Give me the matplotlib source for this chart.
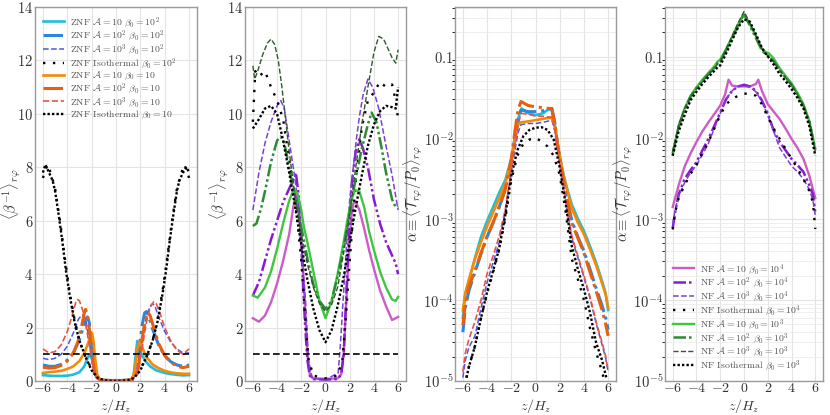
import math
import matplotlib
matplotlib.use("Agg")
import matplotlib.pyplot as plt
from matplotlib.ticker import FixedLocator, FuncFormatter, LogLocator, NullFormatter

plt.rcParams['font.family'] = ['cmr10']
plt.rcParams['mathtext.fontset'] = 'cm'
plt.rcParams['axes.formatter.use_mathtext'] = True
plt.rcParams['axes.unicode_minus'] = True

# ---------------- Panel 1: ZNF <beta^-1> ----------------
bz_c1_z = [-6,-5.5,-5,-4.5,-4,-3.5,-3,-2.6,-2.35,-2.15,-1.95,-1.75,-1.55,-1.2,-0.5,0,0.5,1.2,1.45,1.6,1.75,1.9,2.1,2.4,2.8,3.3,4,4.5,5,5.5,6]
bz_c1_y = [0.22,0.2,0.19,0.19,0.2,0.24,0.33,0.55,0.85,1.0,0.8,0.35,0.1,0.03,0.02,0.02,0.02,0.04,0.2,0.9,1.5,1.35,1.0,0.75,0.55,0.4,0.3,0.26,0.23,0.21,0.22]
bz_o1_z = [-6,-5.5,-5,-4.5,-4,-3.5,-3,-2.6,-2.3,-2.1,-1.97,-1.85,-1.7,-1.55,-1.3,-0.5,0,0.5,1.3,1.55,1.75,1.98,2.2,2.5,3,3.5,4,4.5,5,5.5,6]
bz_o1_y = [0.3,0.33,0.35,0.38,0.45,0.55,0.75,1.05,1.4,1.7,1.8,1.5,0.8,0.25,0.05,0.02,0.02,0.02,0.06,0.4,1.2,1.5,1.2,0.9,0.62,0.48,0.38,0.32,0.29,0.27,0.27]
bz_c2_z = [-6,-5.5,-5,-4.5,-4,-3.5,-3,-2.7,-2.5,-2.35,-2.2,-2.0,-1.8,-1.6,-1.3,-0.5,0,0.5,1.3,1.6,1.9,2.15,2.35,2.5,2.7,3,3.5,4,4.5,5,5.5,6]
bz_c2_y = [0.6,0.55,0.55,0.62,0.78,1.05,1.55,2.0,2.3,2.4,2.2,1.4,0.6,0.15,0.04,0.02,0.02,0.02,0.05,0.3,1.2,2.1,2.55,2.6,2.4,1.95,1.35,0.95,0.72,0.6,0.55,0.6]
bz_o2_z = [-6,-5.5,-5,-4.5,-4,-3.5,-3.1,-2.8,-2.6,-2.5,-2.35,-2.15,-1.95,-1.75,-1.5,-1,0,1,1.5,1.8,2.1,2.35,2.6,2.8,3.1,3.5,4,4.5,5,5.5,6]
bz_o2_y = [0.52,0.48,0.5,0.58,0.75,1.05,1.5,2.1,2.55,2.68,2.5,1.8,0.9,0.3,0.07,0.02,0.02,0.02,0.07,0.4,1.4,2.2,2.57,2.45,2.0,1.4,0.95,0.7,0.55,0.5,0.55]
bz_c3_z = [-6,-5.5,-5,-4.5,-4,-3.5,-3.1,-2.85,-2.7,-2.5,-2.3,-2.05,-1.8,-1.55,-1.3,-0.5,0,0.5,1.3,1.6,1.9,2.2,2.5,2.8,3.0,3.2,3.5,4,4.5,5,5.5,6]
bz_c3_y = [0.85,0.8,0.85,1.0,1.3,1.8,2.3,2.45,2.48,2.3,1.8,1.0,0.35,0.1,0.03,0.02,0.02,0.02,0.05,0.25,0.9,1.7,2.4,2.8,2.9,2.8,2.4,1.85,1.45,1.2,1.05,1.05]
bz_o3_z = [-6,-5.5,-5,-4.5,-4,-3.6,-3.3,-3.15,-3.0,-2.7,-2.4,-2.1,-1.85,-1.6,-1.3,-0.5,0,0.5,1.3,1.6,1.9,2.2,2.5,2.8,3.1,3.3,3.6,4,4.5,5,5.5,6]
bz_o3_y = [1.2,1.05,1.1,1.35,1.85,2.45,2.95,3.05,3.0,2.6,1.9,1.1,0.45,0.12,0.03,0.02,0.02,0.02,0.04,0.15,0.6,1.4,2.2,2.75,2.97,2.9,2.55,2.0,1.5,1.15,1.0,1.2]
bz_iso2_z = [-6,-5.8,-5.6,-5.3,-5,-4.6,-4.2,-3.8,-3.4,-3,-2.5,-2,-1.5,-1,0,1,1.5,2,2.5,3,3.4,3.8,4.2,4.6,5,5.3,5.6,5.8,6]
bz_iso2_y = [7.6,7.9,8.1,7.7,7.2,6.0,4.6,3.3,2.3,1.5,0.9,0.45,0.1,0.02,0.01,0.02,0.1,0.45,0.9,1.5,2.3,3.3,4.6,6.0,7.2,7.7,8.1,7.9,7.6]
bz_iso1_z = [-6,-5.8,-5.5,-5.2,-5,-4.7,-4.4,-4.1,-3.8,-3.4,-3,-2.5,-2,-1.5,-1,-0.5,0,0.5,1,1.5,2,2.5,3,3.4,3.8,4.1,4.4,4.7,5,5.2,5.5,5.8,6]
bz_iso1_y = [7.8,8.1,7.8,7.5,7.1,6.2,5.2,4.1,3.2,2.2,1.5,0.9,0.4,0.12,0.03,0.01,0.0,0.01,0.03,0.12,0.4,0.9,1.5,2.2,3.2,4.1,5.2,6.2,7.1,7.5,7.8,8.0,7.8]

# reference level beta^-1 = 1
ref_z = [-6, 6]
ref_y = [1.0, 1.0]

# ---------------- Panel 2: NF <beta^-1> ----------------
bn_m1_z = [-6,-5.5,-5,-4.5,-4,-3.5,-3,-2.7,-2.45,-2.2,-1.95,-1.7,-1.5,-1.3,-1,0,1,1.3,1.5,1.7,1.9,2.1,2.3,2.5,2.8,3.2,3.6,4,4.5,5,5.5,6]
bn_m1_y = [2.35,2.22,2.45,2.95,3.65,4.5,5.5,6.4,7.05,6.6,5.0,2.8,1.0,0.25,0.1,0.08,0.1,0.25,1.0,2.8,4.6,6.0,6.65,6.7,6.4,5.7,4.9,4.2,3.4,2.8,2.28,2.4]
bn_m2_z = [-6,-5.5,-5,-4.5,-4,-3.5,-3,-2.7,-2.45,-2.2,-1.95,-1.7,-1.5,-1.3,-1,0,1,1.3,1.5,1.7,1.9,2.2,2.5,2.8,3.1,3.5,4,4.5,5,5.5,5.8,6]
bn_m2_y = [3.2,3.7,4.5,5.3,6.0,6.7,7.2,7.5,7.8,6.9,4.6,2.2,0.8,0.2,0.07,0.05,0.07,0.25,1.0,3.0,5.2,7.5,8.6,9.05,8.7,8.0,6.8,5.9,5.2,4.7,4.4,4.0]
bn_m3_z = [-6,-5.5,-5,-4.5,-4,-3.7,-3.4,-3.1,-2.8,-2.5,-2.2,-1.9,-1.65,-1.4,-1.1,0,1.05,1.25,1.45,1.7,2.0,2.3,2.55,2.8,3.1,3.5,3.9,4.4,5,5.5,6]
bn_m3_y = [6.4,7.8,8.9,9.7,10.3,10.5,10.2,9.3,8.4,7.5,6.3,4.5,3.0,0.8,0.1,0.05,0.3,1.5,3.0,4.8,6.8,8.0,9.05,9.9,10.7,11.3,11.0,10.2,8.8,7.7,6.4]
bn_iso4_z = [-6,-5.8,-5.5,-5,-4.5,-4,-3.5,-3,-2.5,-2,-1.7,-1.4,-1,0,1,1.4,1.7,2,2.5,3,3.5,4,4.5,5,5.5,5.8,6]
bn_iso4_y = [9.7,11.6,11.4,11.6,11.0,10.5,9.8,8.3,6.8,4.5,2.5,0.8,0.2,0.1,0.2,0.8,2.5,4.5,7.5,9.5,10.5,10.8,11.2,11.0,11.1,10.5,9.8]
bn_g1_z = [-6,-5.6,-5,-4.5,-4,-3.5,-3,-2.6,-2.3,-2,-1.8,-1.5,-1,-0.5,0,0.5,1,1.5,1.8,2.1,2.4,2.8,3.2,3.6,4,4.5,5,5.5,5.8,6]
bn_g1_y = [3.2,3.12,3.5,4.1,4.95,5.9,6.75,7.2,7.0,6.4,5.8,5.2,4.1,3.0,2.35,3.0,4.0,5.2,6.0,6.7,7.15,7.1,6.5,5.6,4.9,4.1,3.5,3.05,3.0,3.15]
bn_g2_z = [-6,-5.7,-5.3,-5,-4.5,-4,-3.7,-3.4,-3,-2.6,-2.2,-1.8,-1.5,-1,-0.5,0,0.5,1,1.5,2,2.5,3,3.5,3.8,4.2,4.6,5,5.5,5.8,6]
bn_g2_y = [5.8,5.9,6.5,7.1,8.2,9.0,9.15,8.9,8.0,7.0,6.2,5.3,4.6,3.6,3.0,2.7,3.0,3.9,5.0,6.3,7.6,8.7,9.6,10.05,9.7,8.8,7.8,6.8,6.5,6.55]
bn_g3_z = [-6,-5.85,-5.6,-5.2,-4.8,-4.5,-4.2,-3.9,-3.6,-3.3,-3,-2.6,-2.2,-1.8,-1.4,-1,-0.5,0,0.5,1,1.5,2,2.5,3,3.5,4,4.4,4.8,5.2,5.5,5.8,6]
bn_g3_y = [11.8,11.3,11.6,12.2,12.65,12.8,12.6,12.0,11.0,9.8,8.6,7.2,6.0,5.0,4.2,3.5,2.9,2.6,2.85,3.5,4.8,6.3,8.0,9.6,11.0,12.3,12.9,12.8,12.4,12.1,11.9,12.4]
bn_iso3_z = [-6,-5.5,-5,-4.5,-4,-3.5,-3,-2.5,-2,-1.5,-1,-0.5,0,0.5,1,1.5,2,2.5,3,3.5,4,4.5,5,5.5,5.8,6]
bn_iso3_y = [9.45,9.8,10.2,10.3,10.0,9.0,7.8,6.5,5.1,3.8,2.7,1.9,1.45,1.9,2.8,3.9,5.2,6.5,7.7,8.8,9.6,10.1,10.3,10.25,10.2,11.0]

# ---------------- Panel 3: ZNF alpha ----------------
az_c1_z = [-6,-5.8,-5.5,-5,-4.5,-4,-3.5,-3,-2.5,-2,-1.7,-1.4,-1.15,-0.6,0,0.6,1.0,1.3,1.55,1.8,2.0,2.3,2.6,3,3.5,4,4.5,5,5.5,5.8,6]
az_c1_y = [6e-5,1.2e-4,1.7e-4,3.3e-4,6e-4,9.4e-4,1.4e-3,2.1e-3,3.0e-3,5.5e-3,1.0e-2,1.8e-2,2.3e-2,2.0e-2,1.9e-2,2.0e-2,2.2e-2,2.3e-2,1.6e-2,9e-3,6e-3,3.6e-3,2.4e-3,1.5e-3,1.0e-3,7.1e-4,4.6e-4,2.9e-4,1.7e-4,1.2e-4,7.5e-5]
az_o1_z = [-6,-5.8,-5.5,-5,-4.5,-4,-3.5,-3,-2.5,-2,-1.7,-1.45,-1.2,-0.5,0,0.5,1.0,1.35,1.6,1.8,2.0,2.3,2.6,3,3.5,4,4.5,5,5.5,5.8,6]
az_o1_y = [7.4e-5,1.2e-4,1.8e-4,3.2e-4,5.2e-4,8.1e-4,1.2e-3,1.8e-3,2.7e-3,5.2e-3,1.0e-2,1.45e-2,1.55e-2,1.6e-2,1.65e-2,1.7e-2,1.75e-2,1.75e-2,1.4e-2,9e-3,6e-3,3.5e-3,2.3e-3,1.35e-3,9e-4,6.5e-4,4.2e-4,2.7e-4,1.6e-4,1.15e-4,8e-5]
az_mid_z = [-6,-5.8,-5.5,-5,-4.5,-4,-3.5,-3,-2.5,-2,-1.7,-1.45,-1.2,-0.6,0,0.6,1.0,1.35,1.6,1.8,2.0,2.3,2.6,3,3.5,4,4.5,5,5.5,5.8,6]
az_c2_y = [4e-5,8e-5,1.3e-4,2.2e-4,3.7e-4,6e-4,9e-4,1.4e-3,2.3e-3,5e-3,1.0e-2,1.7e-2,2.2e-2,2.1e-2,2.1e-2,2.15e-2,2.25e-2,2.3e-2,1.5e-2,8.5e-3,5.5e-3,3e-3,1.8e-3,9.5e-4,6e-4,4e-4,2.4e-4,1.4e-4,8.5e-5,6e-5,4.3e-5]
az_o2_y = [4.9e-5,9e-5,1.45e-4,2.3e-4,3.8e-4,6.1e-4,9e-4,1.4e-3,2.3e-3,5.5e-3,1.2e-2,2.2e-2,2.8e-2,2.5e-2,2.4e-2,2.35e-2,2.3e-2,2.3e-2,1.5e-2,8.5e-3,5.5e-3,3e-3,1.75e-3,8.9e-4,5.8e-4,3.8e-4,2.2e-4,1.3e-4,7.5e-5,5e-5,3.6e-5]
az_o3_y = [1.3e-5,2.2e-5,3.3e-5,5.4e-5,1.0e-4,2.1e-4,3.5e-4,6.1e-4,1.3e-3,4.0e-3,8e-3,1.4e-2,2.0e-2,1.95e-2,1.85e-2,1.85e-2,1.8e-2,1.8e-2,1.3e-2,8e-3,5e-3,2.6e-3,1.4e-3,6.1e-4,3.5e-4,2e-4,1.1e-4,5.4e-5,3e-5,2e-5,1.35e-5]
az_c3_y = [1.1e-5,1.8e-5,2.6e-5,3.6e-5,8e-5,1.65e-4,2.9e-4,5.1e-4,1.2e-3,3.8e-3,7e-3,1.15e-2,1.45e-2,1.5e-2,1.5e-2,1.55e-2,1.6e-2,1.65e-2,1.2e-2,7.5e-3,4.8e-3,2.5e-3,1.3e-3,5.8e-4,3.3e-4,1.9e-4,1.05e-4,5.2e-5,2.8e-5,1.9e-5,1.3e-5]
az_iso_z = [-5.7,-5.5,-5,-4.5,-4,-3.5,-3,-2.5,-2,-1.5,-1,-0.5,0,0.5,1,1.5,2,2.5,3,3.5,4,4.5,5,5.5,5.85]
az_iso2_y = [1.1e-5,1.5e-5,2.7e-5,6e-5,1.2e-4,2.2e-4,4.2e-4,1.0e-3,3.0e-3,6e-3,8.5e-3,9.5e-3,1.0e-2,9e-3,7.8e-3,6e-3,3.5e-3,1.2e-3,3.2e-4,1.8e-4,1.0e-4,4.5e-5,2.3e-5,1.3e-5,8e-6]
az_iso1_y = [1.1e-5,1.5e-5,2.7e-5,6e-5,1.26e-4,2.3e-4,4.3e-4,1.1e-3,3.4e-3,7e-3,1.05e-2,1.25e-2,1.33e-2,1.35e-2,1.25e-2,9.5e-3,4.3e-3,1.5e-3,4.6e-4,2.4e-4,1.35e-4,7e-5,3e-5,1.8e-5,1.1e-5]

# ---------------- Panel 4: NF alpha ----------------
an_m1_z = [-6,-5.5,-5,-4.5,-4,-3.5,-3,-2.5,-2,-1.6,-1.3,-1.0,-0.5,0,0.5,1.0,1.2,1.5,2,2.5,3,3.5,4,4.5,5,5.5,6]
an_m1_y = [1.4e-3,2.6e-3,4.4e-3,6.4e-3,8.9e-3,1.2e-2,1.55e-2,1.96e-2,2.5e-2,3.4e-2,5.2e-2,4.4e-2,4.3e-2,4.3e-2,4.3e-2,4.6e-2,5.2e-2,3.8e-2,2.6e-2,2.1e-2,1.7e-2,1.3e-2,9.7e-3,7.5e-3,5.5e-3,3.4e-3,1.8e-3]
an_p_z = [-6,-5.8,-5.5,-5,-4.5,-4,-3.5,-3,-2.5,-2,-1.5,-1,-0.5,0,0.5,1,1.5,2,2.5,3,3.5,4,4.5,5,5.5,5.8,6]
an_m2_y = [7.7e-4,1.2e-3,2.0e-3,3.1e-3,4e-3,5e-3,7e-3,9.7e-3,1.4e-2,2.06e-2,3e-2,3.8e-2,4.3e-2,4.5e-2,4.3e-2,3.8e-2,2.9e-2,2e-2,1.23e-2,8.9e-3,7e-3,5.5e-3,4.6e-3,3.8e-3,2.6e-3,2e-3,1.2e-3]
an_m3_y = [8.5e-4,1.3e-3,1.9e-3,2.8e-3,3.7e-3,4.6e-3,6.2e-3,8.5e-3,1.3e-2,2e-2,3e-2,3.8e-2,4.3e-2,4.4e-2,4.2e-2,3.7e-2,2.8e-2,1.9e-2,1.2e-2,7.5e-3,5.8e-3,4.5e-3,3.8e-3,3.1e-3,2.3e-3,1.7e-3,1.1e-3]
an_iso4_y = [7.4e-4,1.2e-3,1.8e-3,2.6e-3,3.6e-3,4.6e-3,6.5e-3,8.9e-3,1.3e-2,1.9e-2,2.6e-2,3e-2,3.3e-2,3.5e-2,3.5e-2,3.3e-2,2.6e-2,1.8e-2,1.3e-2,9.7e-3,7.3e-3,5.5e-3,4.2e-3,3.1e-3,2.2e-3,1.6e-3,7.5e-4]
an_g_z = [-6,-5.5,-5,-4.5,-4,-3.5,-3,-2.5,-2.2,-2,-1.5,-1,-0.5,0,0.5,1,1.5,1.8,2.1,2.5,3,3.5,4,4.5,5,5.5,6]
an_g1_y = [6.3e-3,1.4e-2,2.3e-2,3.3e-2,4.2e-2,5.2e-2,6.3e-2,7.6e-2,8.8e-2,9.2e-2,0.125,0.175,0.25,0.33,0.25,0.18,0.125,0.115,0.11,0.095,0.072,0.058,0.047,0.036,0.026,0.016,7.3e-3]
an_g2_y = [6.5e-3,1.35e-2,2.2e-2,3.2e-2,4.1e-2,5e-2,6.1e-2,7.3e-2,8.4e-2,8.8e-2,0.12,0.17,0.24,0.34,0.24,0.17,0.12,0.108,0.1,0.088,0.068,0.055,0.045,0.034,0.025,0.016,7e-3]
an_g3_y = [6.8e-3,1.45e-2,2.3e-2,3.2e-2,4e-2,4.9e-2,6e-2,7.2e-2,8.2e-2,8.6e-2,0.125,0.18,0.26,0.36,0.26,0.18,0.125,0.11,0.1,0.087,0.068,0.055,0.045,0.034,0.025,0.016,6.8e-3]
an_iso3_y = [6e-3,1.2e-2,1.9e-2,2.9e-2,3.7e-2,4.6e-2,5.6e-2,6.7e-2,7.5e-2,7.8e-2,0.11,0.16,0.23,0.29,0.27,0.19,0.13,0.11,0.097,0.08,0.061,0.05,0.04,0.031,0.023,0.014,6e-3]

# ---------------- labels ----------------
znf_labels = [r'ZNF $\mathcal{A}=10$ $\beta_0=10^2$', r'ZNF $\mathcal{A}=10^2$ $\beta_0=10^2$',
              r'ZNF $\mathcal{A}=10^3$ $\beta_0=10^2$', r'ZNF Isothermal $\beta_0=10^2$',
              r'ZNF $\mathcal{A}=10$ $\beta_0=10$', r'ZNF $\mathcal{A}=10^2$ $\beta_0=10$',
              r'ZNF $\mathcal{A}=10^3$ $\beta_0=10$', r'ZNF Isothermal $\beta_0=10$']
nf_labels = [r'NF $\mathcal{A}=10$ $\beta_0=10^4$', r'NF $\mathcal{A}=10^2$ $\beta_0=10^4$',
             r'NF $\mathcal{A}=10^3$ $\beta_0=10^4$', r'NF Isothermal $\beta_0=10^4$',
             r'NF $\mathcal{A}=10$ $\beta_0=10^3$', r'NF $\mathcal{A}=10^2$ $\beta_0=10^3$',
             r'NF $\mathcal{A}=10^3$ $\beta_0=10^3$', r'NF Isothermal $\beta_0=10^3$']

# ---------------- styles ----------------
DD = (0, (1.0, 0.9))          # dense dots
LD = (0, (1.0, 3.2))          # loose dots
DDD = (0, (5, 1.2, 1, 1.2, 1, 1.2))  # dash-dot-dot
znf_styles = [dict(color='#1dbfdc', ls='-', lw=1.9),
              dict(color='#2b86dc', ls='-.', lw=2.2),
              dict(color='#4858ec', ls='--', lw=1.1),
              dict(color='black', ls=LD, lw=1.7),
              dict(color='#f58a07', ls='-', lw=1.9),
              dict(color='#e5600f', ls='-.', lw=2.2),
              dict(color='#ea5343', ls='--', lw=1.2),
              dict(color='black', ls=DD, lw=1.7)]
nf_styles = [dict(color='#cc5cc8', ls='-', lw=1.7),
             dict(color='#8a1ad0', ls=DDD, lw=1.8),
             dict(color='#7b3fd8', ls='--', lw=1.1),
             dict(color='black', ls=LD, lw=1.7),
             dict(color='#3fc63f', ls='-', lw=1.7),
             dict(color='#2e8b34', ls=DDD, lw=1.8),
             dict(color='#2d5a2d', ls='--', lw=1.0),
             dict(color='black', ls=DD, lw=1.7)]

fig = plt.figure(figsize=(8.3, 4.15), dpi=100)
bottom, height = 1 - 381/415, (381 - 7)/415
lefts = [35, 245, 455, 665]
rights = [197, 406, 616, 823]
axes = [fig.add_axes([l/830, bottom, (r - l)/830, height]) for l, r in zip(lefts, rights)]
ylabel_x = [-0.075, -0.085, -0.185, -0.19]

def log_fmt(v, p):
    if abs(v - 0.1) < 1e-9:
        return r'$0.1$'
    return r'$10^{%d}$' % round(math.log10(v))

def style_axes(ax, lx, log=False):
    ax.set_xlim(-6.65, 6.65)
    ax.xaxis.set_major_locator(FixedLocator([-6, -4, -2, 0, 2, 4, 6]))
    for s in ax.spines.values():
        s.set_color('#9a9a9a')
        s.set_linewidth(1.0)
    ax.tick_params(length=0, labelsize=10.5, labelcolor='#333333', pad=1.2)
    ax.tick_params(axis='x', labelsize=10, pad=0.8)
    ax.grid(True, which='major', color='#e4e4e4', lw=0.8)
    ax.set_axisbelow(True)
    ax.set_xlabel(r'$z/H_z$', fontsize=10, color='#333333')
    ax.xaxis.set_label_coords(0.5, -0.044)
    if log:
        ax.set_yscale('log')
        ax.set_ylim(1e-5, 0.41)
        ax.yaxis.set_major_locator(FixedLocator([1e-5, 1e-4, 1e-3, 1e-2, 1e-1]))
        ax.yaxis.set_major_formatter(FuncFormatter(log_fmt))
        ax.yaxis.set_minor_locator(LogLocator(base=10, subs=range(2, 10), numticks=20))
        ax.yaxis.set_minor_formatter(NullFormatter())
        ax.grid(True, which='minor', axis='y', color='#ececec', lw=0.6)
        ax.set_ylabel(r'$\alpha\equiv\langle\mathcal{T}_{r\varphi}/P_0\rangle_{r\varphi}$', fontsize=10.5, color='#333333')
    else:
        ax.set_ylim(0, 14)
        ax.yaxis.set_major_locator(FixedLocator(list(range(0, 15, 2))))
        ax.set_ylabel(r'$\langle\beta^{-1}\rangle_{r\varphi}$', fontsize=10.5, color='#333333')
    ax.yaxis.set_label_coords(lx, 0.5)

leg_kw = dict(fontsize=7.0, frameon=False, handlelength=2.2, handletextpad=0.6,
              labelspacing=-0.1, borderaxespad=0.4, labelcolor='#555555')

# Panel 1
ax = axes[0]
p1 = [(bz_c1_z, bz_c1_y), (bz_c2_z, bz_c2_y), (bz_c3_z, bz_c3_y), (bz_iso2_z, bz_iso2_y),
      (bz_o1_z, bz_o1_y), (bz_o2_z, bz_o2_y), (bz_o3_z, bz_o3_y), (bz_iso1_z, bz_iso1_y)]
for (zz, yy), st, lab in zip(p1, znf_styles, znf_labels):
    ax.plot(zz, yy, label=lab, **st)
ax.plot(ref_z, ref_y, color='black', ls=(0, (4, 2)), lw=1.2)
style_axes(ax, ylabel_x[0])
ax.legend(loc='upper left', **leg_kw)

# Panel 2
ax = axes[1]
p2 = [(bn_m1_z, bn_m1_y), (bn_m2_z, bn_m2_y), (bn_m3_z, bn_m3_y), (bn_iso4_z, bn_iso4_y),
      (bn_g1_z, bn_g1_y), (bn_g2_z, bn_g2_y), (bn_g3_z, bn_g3_y), (bn_iso3_z, bn_iso3_y)]
for (zz, yy), st in zip(p2, nf_styles):
    ax.plot(zz, yy, **st)
ax.plot(ref_z, ref_y, color='black', ls=(0, (4, 2)), lw=1.2)
style_axes(ax, ylabel_x[1])

# Panel 3
ax = axes[2]
p3 = [(az_c1_z, az_c1_y), (az_mid_z, az_c2_y), (az_mid_z, az_c3_y), (az_iso_z, az_iso2_y),
      (az_o1_z, az_o1_y), (az_mid_z, az_o2_y), (az_mid_z, az_o3_y), (az_iso_z, az_iso1_y)]
for (zz, yy), st in zip(p3, znf_styles):
    ax.plot(zz, yy, **st)
style_axes(ax, ylabel_x[2], log=True)

# Panel 4
ax = axes[3]
p4 = [(an_m1_z, an_m1_y), (an_p_z, an_m2_y), (an_p_z, an_m3_y), (an_p_z, an_iso4_y),
      (an_g_z, an_g1_y), (an_g_z, an_g2_y), (an_g_z, an_g3_y), (an_g_z, an_iso3_y)]
for (zz, yy), st, lab in zip(p4, nf_styles, nf_labels):
    ax.plot(zz, yy, label=lab, **st)
style_axes(ax, ylabel_x[3], log=True)
ax.legend(loc='lower left', **leg_kw)

fig.savefig('out.png', dpi=100)
